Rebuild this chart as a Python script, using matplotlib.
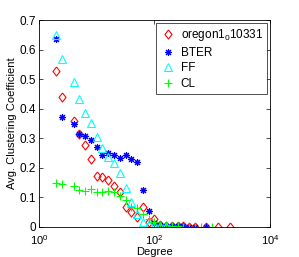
import matplotlib
matplotlib.use("Agg")
import matplotlib.pyplot as plt
import numpy as np

plt.rcParams['font.family'] = ['Liberation Sans', 'DejaVu Sans']
plt.rcParams['mathtext.fontset'] = 'custom'
plt.rcParams['mathtext.rm'] = 'Liberation Sans'
plt.rcParams['mathtext.it'] = 'Liberation Sans:italic'

# degrees (log-binned)
deg_oregon = [2.0, 2.5, 4.0, 5.0, 6.3, 7.9, 10, 12.6, 15.8, 20, 25, 31.6, 39.8, 50, 63, 79, 100,
              126, 158, 200, 251, 316, 398, 501, 794, 1259, 1995]
cc_oregon = [0.528, 0.44, 0.36, 0.315, 0.277, 0.229, 0.173, 0.170, 0.159, 0.139, 0.117, 0.069,
             0.052, 0.035, 0.066, 0.017, 0.027, 0.005, 0.004, 0.003, 0.002, 0.002, 0.001, 0.001,
             0.0, 0.0, 0.0]

deg_bter = [2.0, 2.5, 4.0, 5.0, 6.3, 7.9, 10, 12.6, 15.8, 20, 25, 31.6, 39.8, 50, 63, 79, 100,
            126, 158, 200, 251, 316, 398, 501, 794]
cc_bter = [0.636, 0.372, 0.348, 0.315, 0.308, 0.294, 0.27, 0.243, 0.25, 0.243, 0.232, 0.243,
           0.23, 0.22, 0.125, 0.054, 0.012, 0.006, 0.004, 0.003, 0.002, 0.002, 0.001, 0.001, 0.0]

deg_ff = [2.0, 2.5, 4.0, 5.0, 6.3, 7.9, 10, 12.6, 15.8, 20, 25, 31.6, 39.8, 50, 63, 79, 100,
          126, 158]
cc_ff = [0.65, 0.568, 0.49, 0.433, 0.386, 0.352, 0.305, 0.267, 0.235, 0.215, 0.183, 0.132,
         0.085, 0.045, 0.017, 0.01, 0.005, 0.003, 0.002]

deg_cl = [2.0, 2.5, 4.0, 5.0, 6.3, 7.9, 10, 12.6, 15.8, 20, 25, 31.6, 39.8, 50, 63, 79, 100,
          126, 158, 200, 251, 316, 398, 501, 631, 1000]
cc_cl = [0.149, 0.145, 0.139, 0.125, 0.122, 0.128, 0.118, 0.118, 0.122, 0.118, 0.105, 0.091,
         0.068, 0.064, 0.044, 0.027, 0.015, 0.008, 0.005, 0.003, 0.002, 0.001, 0.001, 0.001,
         0.0, 0.0]

diamond = [(0, 1), (0.78, 0), (0, -1), (-0.78, 0), (0, 1)]

fig = plt.figure(figsize=(2.99, 2.57), dpi=100)
ax = fig.add_axes([0.130, 0.117, 0.773, 0.805])

ax.plot(deg_oregon, cc_oregon, linestyle='none', marker=diamond, markersize=6.5,
        markerfacecolor='none', markeredgecolor='red', markeredgewidth=0.8,
        label=r'oregon1$_0$10331')
ax.plot(deg_bter, cc_bter, linestyle='none', marker=(8, 2, 0), markersize=5,
        markeredgecolor='blue', markeredgewidth=0.8, label='BTER')
ax.plot(deg_ff, cc_ff, linestyle='none', marker='^', markersize=5.5,
        markerfacecolor='none', markeredgecolor='cyan', markeredgewidth=0.8, label='FF')
ax.plot(deg_cl, cc_cl, linestyle='none', marker='+', markersize=6,
        markeredgecolor='#00ff00', markeredgewidth=0.8, label='CL')

ax.set_xscale('log')
ax.set_xlim(1, 1e4)
ax.set_ylim(0, 0.7)
ax.set_xticks([1, 100, 10000])
ax.set_xticklabels([r'$10^{0}$', r'$10^{2}$', r'$10^{4}$'])
ax.xaxis.set_minor_locator(matplotlib.ticker.NullLocator())
ax.set_yticks(np.arange(0, 0.71, 0.1))
ax.set_yticklabels(['0', '0.1', '0.2', '0.3', '0.4', '0.5', '0.6', '0.7'])
ax.tick_params(direction='in', length=3, width=0.5, labelsize=8.5, top=True, right=True,
               pad=2)
ax.tick_params(axis='x', pad=4.5, labelsize=8)
for s in ax.spines.values():
    s.set_linewidth(0.6)

ax.set_xlabel('Degree', fontsize=8, labelpad=0)
ax.set_ylabel('Avg. Clustering Coefficient', fontsize=8, labelpad=2)

leg = ax.legend(loc='upper right', fontsize=8.5, frameon=True, fancybox=False,
                borderaxespad=0.25, handletextpad=0.5, labelspacing=0.3,
                handlelength=1.2, borderpad=0.35)
leg.get_frame().set_edgecolor('black')
leg.get_frame().set_linewidth(0.6)

fig.savefig('out.png', dpi=100)
